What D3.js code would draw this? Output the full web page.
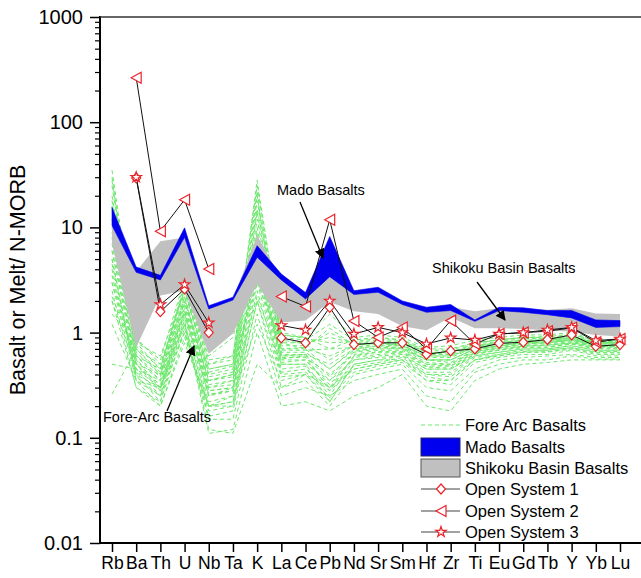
<!DOCTYPE html>
<html>
<head>
<meta charset="utf-8">
<script src="https://cdn.jsdelivr.net/npm/d3@7"></script>
<style>
  body { margin: 0; background: #fff; }
  svg { font-family: "Liberation Sans", Arial, sans-serif; }
</style>
</head>
<body>
<svg width="641" height="578"></svg>
<script>
const elements = ["Rb","Ba","Th","U","Nb","Ta","K","La","Ce","Pb","Nd","Sr","Sm","Hf","Zr","Ti","Eu","Gd","Tb","Y","Yb","Lu"];

// Mado Basalts band (upper / lower)
const madoUpper = [15.5,4.2,3.5,9.9,1.8,2.17,6.7,3.6,2.4,8.2,2.5,2.7,2.0,1.74,1.85,1.32,1.74,1.72,1.62,1.62,1.32,1.30];
const madoLower = [10.4,3.74,3.17,8.05,1.68,2.04,5.2,3.17,2.09,3.4,2.3,2.42,1.85,1.56,1.62,1.28,1.62,1.56,1.48,1.38,1.12,1.14];

// Shikoku Basin Basalts band (upper / lower)
const shikokuUpper = [10.5,3.8,7.4,8.0,1.75,2.05,8.4,3.2,2.1,3.5,2.3,2.45,1.9,1.65,1.75,1.6,1.7,1.65,1.65,1.7,1.52,1.5];
const shikokuLower = [7.0,0.72,2.25,2.5,0.63,0.98,2.9,1.25,1.3,1.95,1.6,1.5,1.15,1.05,1.4,1.1,1.1,1.08,1.05,1.02,0.95,0.92];

// Open system models (null = not plotted)
const openSystem1 = [null,29.5,1.58,2.6,1.0,null,null,0.89,0.80,1.74,0.77,0.80,0.80,0.62,0.67,0.70,0.79,0.81,0.86,0.95,0.74,0.77];
const openSystem2 = [null,265,9.2,18.3,4.03,null,null,2.2,1.77,11.8,1.29,0.9,1.12,0.70,1.3,0.78,0.97,1.0,1.03,1.11,0.81,0.87];
const openSystem3 = [null,30,1.85,2.86,1.24,null,null,1.17,1.06,2.0,0.97,1.12,1.0,0.78,0.89,0.85,0.97,1.0,1.06,1.12,0.84,0.87];

// Fore arc basalts (individual samples)
const foreArc = [
  [35,0.9,0.5,2.5,0.45,0.5,28,0.9,0.85,1.2,0.85,0.9,0.85,0.7,0.7,0.8,0.85,0.9,0.9,0.95,0.85,0.85],
  [28,0.7,0.4,2.8,0.4,0.45,22,0.8,0.8,0.9,0.8,0.85,0.8,0.65,0.65,0.75,0.8,0.85,0.85,0.9,0.8,0.8],
  [20,0.8,0.45,3.0,0.5,0.55,15,0.95,0.9,1.5,0.9,0.95,0.9,0.72,0.75,0.85,0.9,0.95,0.95,1.0,0.85,0.85],
  [15,0.6,0.35,2.2,0.35,0.4,12,0.7,0.7,0.6,0.75,0.8,0.75,0.6,0.6,0.72,0.78,0.82,0.85,0.88,0.8,0.8],
  [10,0.55,0.3,2.0,0.3,0.35,8,0.65,0.65,0.45,0.7,0.75,0.72,0.55,0.55,0.7,0.75,0.8,0.8,0.85,0.78,0.78],
  [8,0.5,0.28,1.8,0.28,0.3,6,0.6,0.6,0.35,0.65,0.7,0.7,0.52,0.5,0.68,0.72,0.78,0.78,0.82,0.75,0.75],
  [6,0.45,0.25,1.6,0.25,0.28,5,0.55,0.55,0.3,0.6,0.65,0.65,0.48,0.48,0.65,0.7,0.75,0.75,0.8,0.72,0.72],
  [5,0.4,0.22,1.4,0.22,0.25,4,0.5,0.5,0.25,0.55,0.6,0.62,0.45,0.45,0.62,0.68,0.72,0.72,0.78,0.7,0.7],
  [4,0.38,0.25,1.2,0.2,0.22,3.5,0.45,0.48,0.22,0.5,0.55,0.6,0.42,0.42,0.6,0.65,0.7,0.7,0.75,0.68,0.68],
  [3,0.35,0.3,1.0,0.18,0.2,3,0.42,0.45,0.3,0.48,0.52,0.58,0.4,0.4,0.58,0.62,0.68,0.68,0.72,0.65,0.65],
  [2.5,0.3,0.2,0.9,0.2,0.22,2.5,0.4,0.42,0.28,0.45,0.5,0.55,0.38,0.35,0.55,0.6,0.65,0.65,0.7,0.62,0.62],
  [2,0.3,0.22,1.1,0.16,0.18,2,0.38,0.4,0.24,0.42,0.48,0.52,0.35,0.32,0.52,0.58,0.62,0.62,0.68,0.6,0.6],
  [0.26,0.7,0.5,2.0,0.35,0.4,4,0.6,0.62,0.5,0.7,0.75,0.75,0.55,0.55,0.7,0.75,0.8,0.8,0.85,0.75,0.75],
  [1.5,0.8,0.6,2.5,0.6,0.9,7,1.0,0.9,0.7,0.85,0.9,0.85,0.65,0.62,0.8,0.85,0.9,0.88,0.92,0.82,0.82],
  [12,0.65,0.4,2.4,0.45,0.5,10,0.75,0.75,1.0,0.78,0.82,0.78,0.62,0.62,0.75,0.8,0.85,0.85,0.9,0.8,0.8],
  [25,0.75,0.45,2.6,0.38,0.42,18,0.85,0.78,0.55,0.75,0.8,0.8,0.65,0.65,0.78,0.82,0.88,0.88,0.92,0.82,0.82],
  [7,0.5,0.32,1.7,0.3,0.32,6,0.58,0.58,0.4,0.62,0.68,0.68,0.5,0.5,0.66,0.72,0.76,0.76,0.8,0.74,0.74],
  [4.5,0.42,0.28,1.5,0.26,0.28,4.5,0.52,0.55,0.32,0.58,0.62,0.64,0.47,0.46,0.63,0.68,0.73,0.73,0.78,0.71,0.71],
  [3.5,0.4,0.3,1.3,0.12,0.11,0.5,0.3,0.35,0.2,0.4,0.45,0.5,0.3,0.28,0.45,0.55,0.58,0.6,0.62,0.58,0.58],
  [2,0.45,0.35,1.2,0.11,0.12,1.0,0.2,0.22,0.18,0.25,0.3,0.4,0.2,0.18,0.35,0.45,0.5,0.52,0.55,0.55,0.55],
  [1.2,0.35,0.25,1.0,0.15,0.15,1.5,0.25,0.3,0.25,0.35,0.4,0.45,0.25,0.22,0.42,0.5,0.55,0.55,0.6,0.56,0.56],
  [18,0.6,0.38,2.2,0.32,0.35,14,0.68,0.68,0.7,0.72,0.78,0.75,0.58,0.58,0.72,0.78,0.82,0.82,0.86,0.78,0.78],
  [9,0.55,0.35,1.9,0.35,0.38,9,0.62,0.62,0.38,0.66,0.72,0.72,0.55,0.52,0.68,0.74,0.78,0.8,0.84,0.76,0.76],
  [6,0.5,0.3,1.6,0.28,0.3,5.5,0.56,0.6,0.28,0.6,0.66,0.66,0.5,0.48,0.64,0.7,0.74,0.76,0.8,0.74,0.73],
  [30,0.85,0.55,3.2,0.55,0.6,25,0.95,0.88,0.8,0.82,0.88,0.82,0.68,0.68,0.8,0.86,0.9,0.92,0.96,0.84,0.84],
  [3,0.5,0.4,1.5,0.25,0.3,2.2,0.5,0.5,0.35,0.55,0.58,0.6,0.45,0.45,0.6,0.65,0.7,0.7,0.75,0.68,0.68],
  [0.5,0.45,0.3,1.2,0.2,0.25,1.2,0.35,0.4,0.3,0.45,0.5,0.55,0.35,0.35,0.55,0.6,0.65,0.66,0.7,0.64,0.64],
  [16,0.7,0.42,2.0,0.42,0.48,3.0,0.8,0.7,0.45,0.68,0.72,0.7,0.55,0.55,0.7,0.75,0.8,0.82,0.86,0.78,0.78],
  [5,0.35,0.2,0.8,0.2,0.2,2,0.3,0.4,0.22,0.5,0.55,0.55,0.4,0.38,0.55,0.62,0.66,0.68,0.72,0.66,0.66],
  [2.2,0.6,0.45,2.8,0.5,0.6,20,0.7,0.72,1.1,0.76,0.8,0.76,0.6,0.6,0.74,0.8,0.84,0.84,0.88,0.8,0.8]
];

const yMajor = [0.01, 0.1, 1, 10, 100, 1000];

const svg = d3.select("svg");
const green = "#6ee86e";
const red = "#e8252b";
const blue = "#0000ee";
const grey = "#c0c0c0";

const xScale = d3.scalePoint().domain(elements).range([112, 620]);
const yScale = d3.scaleLog().domain([0.01, 1000]).range([543, 17]);

const lineGen = d3.line()
  .defined((d) => d != null)
  .x((d, i) => xScale(elements[i]))
  .y((d) => yScale(d));

// fore arc spaghetti
svg.append("g")
  .selectAll("path")
  .data(foreArc)
  .enter()
  .append("path")
  .attr("d", lineGen)
  .attr("fill", "none")
  .attr("stroke", green)
  .attr("stroke-width", 1)
  .attr("stroke-dasharray", "4,3");

const bandArea = (upper, lower) => d3.area()
  .x((d, i) => xScale(elements[i]))
  .y0((d, i) => yScale(lower[i]))
  .y1((d, i) => yScale(upper[i]))(upper);

svg.append("path").attr("d", bandArea(shikokuUpper, shikokuLower)).attr("fill", grey);
svg.append("path").attr("d", bandArea(madoUpper, madoLower)).attr("fill", blue)
  .attr("stroke", blue).attr("stroke-width", 0.6);

// marker shapes
const diamondPath = "M0,-5L4.5,0L0,5L-4.5,0Z";
const trianglePath = "M-5,0L5,-5.5L5,5.5Z";
const starPath = d3.symbol().type(d3.symbolStar).size(34)();

const series = [
  { name: "Open System 1", values: openSystem1, shape: diamondPath },
  { name: "Open System 2", values: openSystem2, shape: trianglePath },
  { name: "Open System 3", values: openSystem3, shape: starPath }
];

series.forEach((s) => {
  svg.append("path")
    .attr("d", lineGen(s.values))
    .attr("fill", "none")
    .attr("stroke", "#111")
    .attr("stroke-width", 1);
});
series.forEach((s) => {
  svg.append("g")
    .selectAll("path")
    .data(s.values.map((v, i) => [elements[i], v]).filter((d) => d[1] != null))
    .enter()
    .append("path")
    .attr("d", s.shape)
    .attr("transform", (d) => `translate(${xScale(d[0])},${yScale(d[1])})`)
    .attr("fill", "#fff")
    .attr("stroke", red)
    .attr("stroke-width", 1.2);
});

// axes
const yAxis = d3.axisLeft(yScale)
  .tickValues(yMajor)
  .tickSize(10)
  .tickPadding(7)
  .tickFormat((d) => String(d));
const yG = svg.append("g").attr("transform", "translate(100,0)").call(yAxis);
yG.select(".domain").remove();
yG.selectAll("line").attr("stroke", "#000").attr("stroke-width", 1.5);
yG.selectAll("text").attr("font-size", 20).attr("fill", "#000").attr("font-family", "Liberation Sans, Arial, sans-serif");

const minorTicks = yScale.ticks().filter((d) => !yMajor.includes(d));
const yMinor = d3.axisLeft(yScale).tickValues(minorTicks).tickSize(5).tickFormat("");
const yMinorG = svg.append("g").attr("transform", "translate(100,0)").call(yMinor);
yMinorG.select(".domain").remove();
yMinorG.selectAll("line").attr("stroke", "#000").attr("stroke-width", 1.2);

const xAxis = d3.axisBottom(xScale).tickSize(9).tickPadding(5);
const xG = svg.append("g").attr("transform", "translate(0,543)").call(xAxis);
xG.select(".domain").remove();
xG.selectAll("line").attr("stroke", "#000").attr("stroke-width", 1.5);
xG.selectAll("text").attr("font-size", 17.5).attr("fill", "#000").attr("font-family", "Liberation Sans, Arial, sans-serif");

// frame lines
svg.append("line").attr("x1", 100).attr("x2", 641).attr("y1", 543).attr("y2", 543)
  .attr("stroke", "#000").attr("stroke-width", 2);
svg.append("line").attr("x1", 100).attr("x2", 100).attr("y1", 16).attr("y2", 544)
  .attr("stroke", "#000").attr("stroke-width", 2);
svg.append("line").attr("x1", 100).attr("x2", 641).attr("y1", 17).attr("y2", 17)
  .attr("stroke", "#333").attr("stroke-width", 1.5);

svg.append("text")
  .attr("transform", "translate(25,280) rotate(-90)")
  .attr("text-anchor", "middle")
  .attr("font-size", 21.5)
  .text("Basalt or Melt/ N-MORB");

// annotations
svg.append("defs").append("marker")
  .attr("id", "arrow")
  .attr("viewBox", "0 0 10 10")
  .attr("refX", 9).attr("refY", 5)
  .attr("markerWidth", 10).attr("markerHeight", 10)
  .attr("markerUnits", "userSpaceOnUse")
  .attr("orient", "auto")
  .append("path").attr("d", "M0,0L10,5L0,10Z").attr("fill", "#000");

const notes = [
  { text: "Mado Basalts", x: 277, y: 195, from: [300, 202], to: [323, 258] },
  { text: "Shikoku Basin Basalts", x: 432, y: 273, from: [477, 282], to: [505, 320] },
  { text: "Fore-Arc Basalts", x: 103, y: 422, from: [167, 411], to: [194, 346] }
];
notes.forEach((n) => {
  svg.append("text").attr("x", n.x).attr("y", n.y).attr("font-size", 14.5).text(n.text);
  svg.append("line")
    .attr("x1", n.from[0]).attr("y1", n.from[1])
    .attr("x2", n.to[0]).attr("y2", n.to[1])
    .attr("stroke", "#000").attr("stroke-width", 1.3)
    .attr("marker-end", "url(#arrow)");
});

// legend
const legend = svg.append("g").attr("transform", "translate(421,0)");
const rowY = [425, 447, 468, 489, 511, 532];
const legendText = ["Fore Arc Basalts", "Mado Basalts", "Shikoku Basin Basalts", "Open System 1", "Open System 2", "Open System 3"];

legend.append("line").attr("x1", 0).attr("x2", 39).attr("y1", rowY[0]).attr("y2", rowY[0])
  .attr("stroke", green).attr("stroke-dasharray", "4,3");
legend.append("rect").attr("x", 0).attr("y", rowY[1] - 9).attr("width", 39).attr("height", 18)
  .attr("fill", blue).attr("stroke", "#222266");
legend.append("rect").attr("x", 0).attr("y", rowY[2] - 9).attr("width", 39).attr("height", 18)
  .attr("fill", grey).attr("stroke", "#555");
series.forEach((s, i) => {
  const y = rowY[3 + i];
  legend.append("line").attr("x1", 0).attr("x2", 39).attr("y1", y).attr("y2", y)
    .attr("stroke", "#444").attr("stroke-width", 1);
  legend.append("path").attr("d", s.shape).attr("transform", `translate(20,${y})`)
    .attr("fill", "#fff").attr("stroke", red).attr("stroke-width", 1.2);
});
legend.selectAll("text.lab")
  .data(legendText)
  .enter()
  .append("text")
  .attr("class", "lab")
  .attr("x", 44)
  .attr("y", (d, i) => rowY[i])
  .attr("dy", "0.35em")
  .attr("font-size", 16.5)
  .text((d) => d);
</script>
</body>
</html>
